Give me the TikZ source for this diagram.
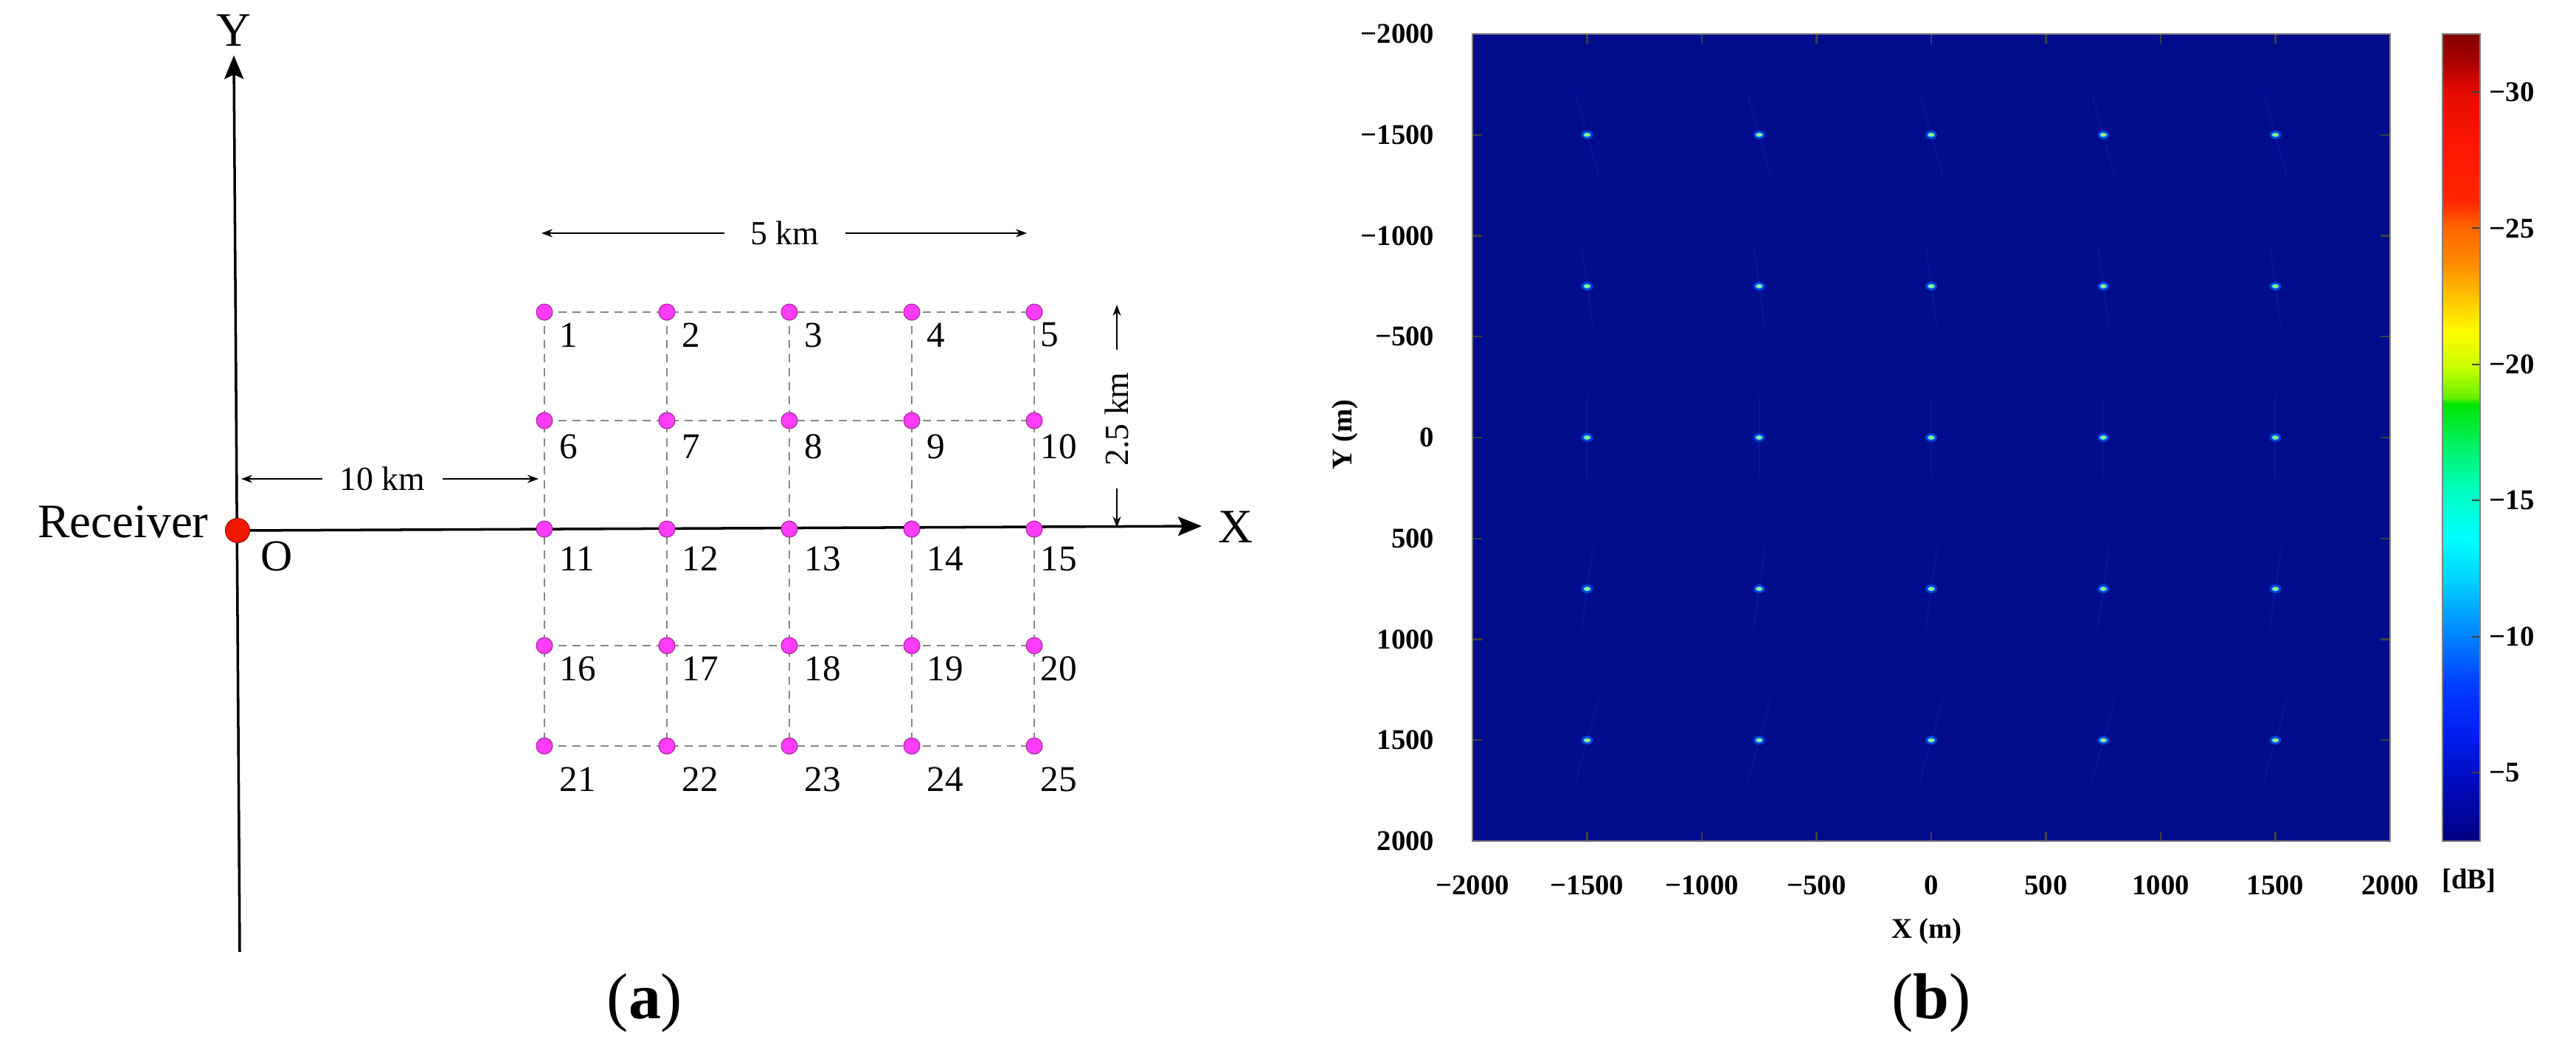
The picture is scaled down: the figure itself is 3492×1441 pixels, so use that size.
\documentclass[tikz,border=0pt]{standalone}
\usepackage{fontspec}
\setmainfont{Liberation Serif}
\usetikzlibrary{arrows.meta}
\definecolor{dotpink}{RGB}{255,60,250}
\definecolor{dotedge}{RGB}{160,40,150}
\definecolor{recvred}{RGB}{240,25,0}
\definecolor{recvedge}{RGB}{150,20,0}
\definecolor{plotbg}{RGB}{0,12,140}
\definecolor{gridgray}{RGB}{135,135,135}
\definecolor{streak}{RGB}{0,80,255}
\definecolor{halo}{RGB}{0,100,255}
\definecolor{spotcyan}{RGB}{60,230,255}
\definecolor{spotcore}{RGB}{230,220,60}
\definecolor{cb0}{RGB}{130,0,0}
\definecolor{cb1}{RGB}{170,0,0}
\definecolor{cb2}{RGB}{230,10,0}
\definecolor{cb3}{RGB}{255,25,0}
\definecolor{cb4}{RGB}{255,40,0}
\definecolor{cb5}{RGB}{255,100,0}
\definecolor{cb6}{RGB}{255,140,0}
\definecolor{cb7}{RGB}{255,190,0}
\definecolor{cb8}{RGB}{255,250,0}
\definecolor{cb9}{RGB}{200,255,0}
\definecolor{cb10}{RGB}{100,240,0}
\definecolor{cb11}{RGB}{0,230,0}
\definecolor{cb12}{RGB}{0,240,90}
\definecolor{cb13}{RGB}{0,255,190}
\definecolor{cb14}{RGB}{0,255,255}
\definecolor{cb15}{RGB}{0,200,255}
\definecolor{cb16}{RGB}{0,130,255}
\definecolor{cb17}{RGB}{0,60,255}
\definecolor{cb18}{RGB}{0,30,240}
\definecolor{cb19}{RGB}{0,10,190}
\definecolor{cb20}{RGB}{0,0,130}
\begin{document}
\begin{tikzpicture}[x=0.01cm,y=-0.01cm,
  axis/.style={line width=1pt,-{Stealth[length=0.32cm,width=0.26cm,inset=0.06cm]}},
  dimarrow/.style={line width=0.55pt,-{Stealth[length=0.15cm,width=0.11cm]}},
  dimtext/.style={font=\fontsize{13}{15}\selectfont, inner ysep=0pt},
  gridline/.style={gridgray, line width=0.7pt, dash pattern=on 0.11cm off 0.08cm},
  srcdot/.style={circle, fill=dotpink, draw=dotedge, line width=0.3pt, minimum size=0.22cm, inner sep=0pt},
  recvdot/.style={circle, fill=recvred, draw=recvedge, line width=0.3pt, minimum size=0.33cm, inner sep=0pt},
  gridlbl/.style={font=\fontsize{14}{16}\selectfont, inner sep=0pt, anchor=west},
  axlbl/.style={font=\fontsize{18.5}{21}\selectfont, inner sep=0pt},
  ticklbl/.style={font=\fontsize{11}{13}\selectfont\bfseries, inner sep=0pt},
  tickmark/.style={line width=0.6pt, black!75},
  sublbl/.style={font=\fontsize{25}{28}\selectfont, inner sep=0pt}
]
\fill[white] (0,0) rectangle (3492,1441);
\useasboundingbox (0,0) rectangle (3492,1441);

% ================= panel (a) =================
\coordinate (O) at (322,719);
\coordinate (ytip) at (317,75);
\coordinate (ybot) at (325,1290);
\coordinate (xtip) at (1629,713);

% grid coordinates and labels
\foreach \yy/\dy [count=\ri from 0] in {423/31,570/35,717/40,875/31,1011/45}{
  \foreach \xx/\dx [count=\ci from 1] in {738/20,904/20,1070/20,1236/20,1402/8}{
    \pgfmathtruncatemacro\n{\ri*5+\ci}
    \coordinate (c\n) at (\xx,\yy);
    \node[gridlbl] (l\n) at (\xx+\dx,\yy+\dy) {\n};
  }
}
% dashed grid
\foreach \a/\b in {1/5,6/10,16/20,21/25}{
  \draw[gridline] (c\a) -- (c\b);
}
\foreach \a/\b in {1/21,2/22,3/23,4/24,5/25}{
  \draw[gridline] (c\a) -- (c\b);
}

% axes
\draw[axis] (ybot) -- (ytip);
\draw[axis] (O) -- (xtip);
\node[axlbl] (Ylbl) at (317,41) {Y};
\node[axlbl] (Xlbl) at (1675,714) {X};

% source dots
\foreach \n in {1,...,25}{
  \node[srcdot] (g\n) at (c\n) {};
}

% receiver
\node[recvdot] (rcv) at (O) {};
\node[font=\fontsize{18.5}{21}\selectfont, inner sep=0pt] (rcvlbl) at (167,707) {Receiver};
\node[font=\fontsize{17}{20}\selectfont, inner sep=0pt] (Olbl) at (375,754) {O};

% 10 km
\coordinate (d10l) at (327,649);
\coordinate (d10r) at (730,649);
\node[dimtext, inner xsep=0.23cm] (t10) at (518,649) {10 km};
\draw[dimarrow] (t10.west) -- (d10l);
\draw[dimarrow] (t10.east) -- (d10r);

% 5 km
\coordinate (d5l) at (734,316);
\coordinate (d5r) at (1392,316);
\node[dimtext, inner xsep=0.35cm] (t5) at (1064,316) {5 km};
\draw[dimarrow] (t5.west) -- (d5l);
\draw[dimarrow] (t5.east) -- (d5r);

% 2.5 km
\coordinate (d25t) at (1514,413);
\coordinate (d25b) at (1514,715);
\node[dimtext, rotate=90, inner xsep=0.30cm] (t25) at (1514,568) {2.5 km};
\draw[dimarrow] (t25.east) -- (d25t);
\draw[dimarrow] (t25.west) -- (d25b);

\node[sublbl] (suba) at (874,1359) {(\textbf{a})};

% ================= panel (b) =================
\fill[plotbg] (1996,46) rectangle (3240,1140);

% spots
\foreach \sy/\s in {182.75/0.28,387.9/0.14,593/0,798.1/-0.14,1003.25/-0.28}{
  \foreach \sx in {2151.5,2384.75,2618,2851.25,3084.5}{
    \draw[line width=0.6pt, streak, opacity=0.15] ({\sx-(\s)*55},{\sy-55}) -- ({\sx+(\s)*55},{\sy+55});
    \fill[halo, opacity=0.6] (\sx,\sy) ellipse [x radius=8, y radius=6];
    \fill[spotcyan] (\sx,\sy) ellipse [x radius=5, y radius=3];
    \fill[spotcore] (\sx,\sy) ellipse [x radius=2.5, y radius=1.8];
  }
}

% ticks on plot frame
\foreach \tx in {2151.5,2307,2462.5,2618,2773.5,2929,3084.5}{
  \draw[tickmark] (\tx,46) -- (\tx,59);
  \draw[tickmark] (\tx,1140) -- (\tx,1127);
}
\foreach \ty in {182.75,319.5,456.25,593,729.75,866.5,1003.25}{
  \draw[tickmark] (1996,\ty) -- (2009,\ty);
  \draw[tickmark] (3240,\ty) -- (3227,\ty);
}
\draw[gray, line width=0.6pt] (1996,46) rectangle (3240,1140);

% x tick labels
\foreach \tx/\tl in {1996/−2000,2151.5/−1500,2307/−1000,2462.5/−500,2618/0,2773.5/500,2929/1000,3084.5/1500,3240/2000}{
  \node[ticklbl] at (\tx,1200) {\tl};
}
% y tick labels
\foreach \ty/\tl in {46/−2000,182.75/−1500,319.5/−1000,456.25/−500,593/0,729.75/500,866.5/1000,1003.25/1500,1140/2000}{
  \node[ticklbl, anchor=east] at (1945,\ty) {\tl};
}
\node[ticklbl] (xm) at (2612,1262) {X (m)};
\node[ticklbl, rotate=90] (ym) at (1823,589) {Y (m)};

% colorbar
\shade[top color=cb0, bottom color=cb1] (3311,46) rectangle (3362,83.5);
\shade[top color=cb1, bottom color=cb2] (3311,83) rectangle (3362,124.5);
\shade[top color=cb2, bottom color=cb3] (3311,124) rectangle (3362,207.5);
\shade[top color=cb3, bottom color=cb4] (3311,207) rectangle (3362,274.5);
\shade[top color=cb4, bottom color=cb5] (3311,274) rectangle (3362,307.5);
\shade[top color=cb5, bottom color=cb6] (3311,307) rectangle (3362,357.5);
\shade[top color=cb6, bottom color=cb7] (3311,357) rectangle (3362,398.5);
\shade[top color=cb7, bottom color=cb8] (3311,398) rectangle (3362,448.5);
\shade[top color=cb8, bottom color=cb9] (3311,448) rectangle (3362,498.5);
\shade[top color=cb9, bottom color=cb10] (3311,498) rectangle (3362,539.5);
\shade[top color=cb10, bottom color=cb11] (3311,539) rectangle (3362,547.5);
\shade[top color=cb11, bottom color=cb12] (3311,547) rectangle (3362,597.5);
\shade[top color=cb12, bottom color=cb13] (3311,597) rectangle (3362,663.5);
\shade[top color=cb13, bottom color=cb14] (3311,663) rectangle (3362,730.5);
\shade[top color=cb14, bottom color=cb15] (3311,730) rectangle (3362,796.5);
\shade[top color=cb15, bottom color=cb16] (3311,796) rectangle (3362,862.5);
\shade[top color=cb16, bottom color=cb17] (3311,862) rectangle (3362,929.5);
\shade[top color=cb17, bottom color=cb18] (3311,929) rectangle (3362,995.5);
\shade[top color=cb18, bottom color=cb19] (3311,995) rectangle (3362,1061.5);
\shade[top color=cb19, bottom color=cb20] (3311,1061) rectangle (3362,1140);
\foreach \cy/\cl in {125/−30,309.4/−25,493.8/−20,678.2/−15,862.6/−10,1047/−5}{
  \draw[tickmark] (3362,\cy) -- (3351,\cy);
  \node[ticklbl, anchor=west] at (3374,\cy) {\cl};
}
\draw[gray, line width=0.6pt] (3311,46) rectangle (3362,1140);
\node[ticklbl] (dB) at (3347,1194) {[dB]};

\node[sublbl] (subb) at (2618,1359) {(\textbf{b})};
\end{tikzpicture}
\end{document}
